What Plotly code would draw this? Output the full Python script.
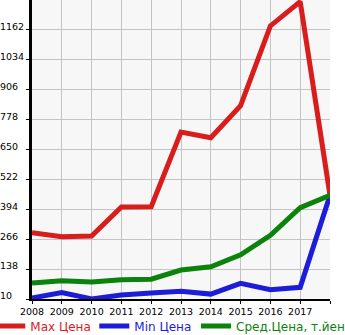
import plotly.graph_objects as go

# Yearly price statistics (thousand yen)
years = [2008, 2009, 2010, 2011, 2012, 2013, 2014, 2015, 2016, 2017, 2018]
year_labels = ["2008", "2009", "2010", "2011", "2012", "2013", "2014", "2015", "2016", "2017", ""]
max_price = [294, 277, 280, 404, 405, 725, 700, 838, 1179, 1283, 454]
min_price = [14, 38, 10, 27, 36, 43, 31, 77, 50, 60, 454]
avg_price = [78, 88, 83, 92, 95, 134, 148, 199, 283, 401, 454]
y_ticks = [10, 138, 266, 394, 522, 650, 778, 906, 1034, 1162]

RED = "#d91c1c"
BLUE = "#1c1cd9"
GREEN = "#0b820b"

NB = "\u00a0"


def left_pad(v):
    s = str(v)
    return s + NB * (2 * (4 - len(s)))


series = [
    ("Max Цена", max_price, RED, 59, "legend"),
    ("Min Цена", min_price, BLUE, 56, "legend"),
    ("Сред.Цена, т.йен", avg_price, GREEN, None, "legend2"),
]

fig = go.Figure()
for name, vals, col, lw, leg in series:
    fig.add_trace(go.Scatter(
        x=years, y=vals, mode="lines",
        name=f'<span style="color:{col}">{name}</span>',
        line=dict(color=col, width=5),
        legendwidth=lw,
        legend=leg,
    ))

legend_common = dict(
    orientation="h", y=-0.09, yanchor="middle", xanchor="left",
    font=dict(size=12), bgcolor="rgba(0,0,0,0)",
)

fig.update_layout(
    width=345, height=335,
    margin=dict(l=32, r=15, t=0, b=36, autoexpand=False),
    paper_bgcolor="white",
    plot_bgcolor="#f7f7f7",
    font=dict(family="DejaVu Sans", size=9.5, color="black"),
    showlegend=True,
    legend=dict(x=-0.14, **legend_common),
    legend2=dict(x=(196 - 32) / 298, **legend_common),
    xaxis=dict(
        range=[2008, 2018], tickvals=years, ticktext=year_labels,
        showgrid=True, gridcolor="#c4c4c4", gridwidth=1,
        showline=True, linecolor="black", linewidth=2,
        ticks="outside", ticklen=3, tickcolor="black",
        zeroline=False, fixedrange=True,
    ),
    yaxis=dict(
        range=[10, 1290], tickvals=y_ticks, ticktext=[left_pad(v) for v in y_ticks],
        showgrid=True, gridcolor="#c4c4c4", gridwidth=1,
        showline=True, linecolor="black", linewidth=3,
        ticks="outside", ticklen=3, tickcolor="black",
        ticklabelshift=-3,
        zeroline=False, fixedrange=True,
    ),
)

fig.write_html("out.html")
